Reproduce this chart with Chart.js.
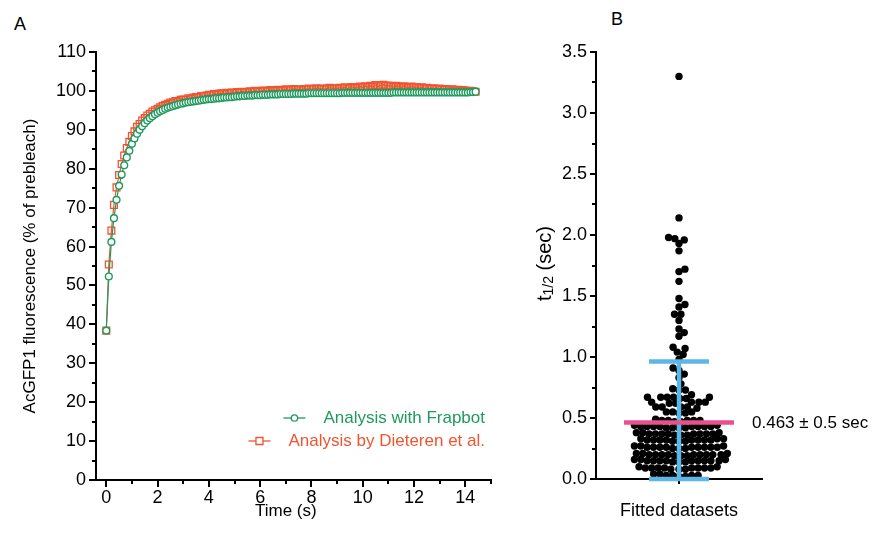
<!DOCTYPE html>
<html>
<head>
<meta charset="utf-8">
<script src="https://cdn.jsdelivr.net/npm/chart.js@4.4.1/dist/chart.umd.min.js"></script>
<style>
  html, body { margin: 0; padding: 0; background: #fff; }
  body { width: 879px; height: 539px; position: relative; overflow: hidden; font-family: "Liberation Sans", Arial, sans-serif; }
  #wrapA { position: absolute; left: 0; top: 0; width: 520px; height: 539px; }
  #wrapB { position: absolute; left: 520px; top: 0; width: 359px; height: 539px; }
  .panel { position: absolute; font-size: 18px; line-height: 18px; color: #000; }
</style>
</head>
<body>
<div class="panel" style="left:14px; top:15px">A</div>
<div class="panel" style="left:611px; top:10px">B</div>
<div id="wrapA"><canvas id="chartA"></canvas></div>
<div id="wrapB"><canvas id="chartB"></canvas></div>
<script>
// --- panel A: recovery curves (time in s, % of prebleach)
const timeS = [
  0.0, 0.1, 0.2, 0.3, 0.4, 0.5, 0.6, 0.7, 0.8, 0.9,
  1.0, 1.1, 1.2, 1.3, 1.4, 1.5, 1.6, 1.7, 1.8, 1.9,
  2.0, 2.1, 2.2, 2.3, 2.4, 2.5, 2.6, 2.7, 2.8, 2.9,
  3.0, 3.1, 3.2, 3.3, 3.4, 3.5, 3.6, 3.7, 3.8, 3.9,
  4.0, 4.1, 4.2, 4.3, 4.4, 4.5, 4.6, 4.7, 4.8, 4.9,
  5.0, 5.1, 5.2, 5.3, 5.4, 5.5, 5.6, 5.7, 5.8, 5.9,
  6.0, 6.1, 6.2, 6.3, 6.4, 6.5, 6.6, 6.7, 6.8, 6.9,
  7.0, 7.1, 7.2, 7.3, 7.4, 7.5, 7.6, 7.7, 7.8, 7.9,
  8.0, 8.1, 8.2, 8.3, 8.4, 8.5, 8.6, 8.7, 8.8, 8.9,
  9.0, 9.1, 9.2, 9.3, 9.4, 9.5, 9.6, 9.7, 9.8, 9.9,
  10.0, 10.1, 10.2, 10.3, 10.4, 10.5, 10.6, 10.7, 10.8, 10.9,
  11.0, 11.1, 11.2, 11.3, 11.4, 11.5, 11.6, 11.7, 11.8, 11.9,
  12.0, 12.1, 12.2, 12.3, 12.4, 12.5, 12.6, 12.7, 12.8, 12.9,
  13.0, 13.1, 13.2, 13.3, 13.4, 13.5, 13.6, 13.7, 13.8, 13.9,
  14.0, 14.1, 14.2, 14.3, 14.4
];

const frapbot = [
  38.4, 52.3, 61.2, 67.3, 72.0, 75.6, 78.5, 80.9, 82.9, 84.6,
  86.4, 87.8, 89.0, 90.0, 90.9, 91.7, 92.4, 93.0, 93.5, 94.0,
  94.4, 94.8, 95.1, 95.4, 95.7, 95.9, 96.1, 96.3, 96.5, 96.7,
  96.8, 97.0, 97.1, 97.2, 97.3, 97.4, 97.5, 97.6, 97.7, 97.8,
  97.9, 97.9, 98.0, 98.1, 98.1, 98.2, 98.3, 98.3, 98.4, 98.4,
  98.5, 98.6, 98.6, 98.7, 98.7, 98.8, 98.8, 98.8, 98.9, 98.9,
  98.9, 99.0, 99.0, 99.0, 99.1, 99.1, 99.1, 99.1, 99.2, 99.2,
  99.2, 99.2, 99.2, 99.3, 99.3, 99.3, 99.3, 99.3, 99.3, 99.4,
  99.4, 99.4, 99.4, 99.4, 99.4, 99.4, 99.4, 99.4, 99.4, 99.4,
  99.4, 99.4, 99.5, 99.5, 99.5, 99.5, 99.5, 99.5, 99.5, 99.5,
  99.5, 99.5, 99.5, 99.5, 99.5, 99.5, 99.5, 99.5, 99.5, 99.5,
  99.5, 99.5, 99.6, 99.6, 99.6, 99.6, 99.6, 99.6, 99.6, 99.6,
  99.6, 99.6, 99.6, 99.6, 99.6, 99.6, 99.6, 99.6, 99.6, 99.6,
  99.6, 99.6, 99.6, 99.6, 99.6, 99.6, 99.6, 99.6, 99.6, 99.6,
  99.6, 99.6, 99.7, 99.7, 99.8
];

const dieteren = [
  38.4, 55.4, 64.1, 70.7, 75.2, 78.4, 81.2, 83.4, 85.3, 86.9,
  88.4, 89.6, 90.8, 91.5, 92.4, 93.0, 93.7, 94.1, 94.7, 95.0,
  95.4, 95.8, 96.2, 96.4, 96.7, 97.0, 97.1, 97.4, 97.3, 97.7,
  97.8, 97.7, 98.1, 98.0, 98.3, 98.4, 98.3, 98.7, 98.6, 98.8,
  99.0, 98.9, 99.2, 99.1, 99.3, 99.4, 99.2, 99.5, 99.4, 99.6,
  99.5, 99.7, 99.6, 99.8, 99.7, 99.6, 99.9, 99.8, 100.0, 99.8,
  99.9, 100.1, 100.0, 99.9, 100.2, 100.1, 100.0, 100.3, 100.1, 100.2,
  100.4, 100.2, 100.3, 100.5, 100.3, 100.4, 100.2, 100.5, 100.4, 100.6,
  100.4, 100.5, 100.7, 100.5, 100.6, 100.4, 100.6, 100.8, 100.5, 100.7,
  100.6, 100.8, 100.7, 100.9, 100.6, 100.8, 101.0, 100.7, 100.9, 101.1,
  100.9, 101.2, 101.0, 101.3, 101.1, 101.5, 101.2, 101.4, 101.6, 101.3,
  101.4, 101.2, 101.0, 101.3, 101.1, 100.9, 101.2, 101.0, 100.8, 101.1,
  100.9, 101.0, 100.7, 100.9, 100.6, 100.8, 100.5, 100.7, 100.6, 100.4,
  100.6, 100.3, 100.5, 100.4, 100.2, 100.4, 100.1, 100.3, 100.0, 100.2,
  100.1, 99.9, 100.0, 99.9, 99.8
];

const timeTicks = [0, 2, 4, 6, 8, 10, 12, 14];
const timeMinorTicks = [1, 3, 5, 7, 9, 11, 13, 15];
const percentTicks = [0, 10, 20, 30, 40, 50, 60, 70, 80, 90, 100, 110];
const percentMinorTicks = [5, 15, 25, 35, 45, 55, 65, 75, 85, 95, 105];

// --- panel B: fitted half-times (s)
const halfLifeSec = [
  3.30, 2.14, 1.98, 1.97, 1.96, 1.93, 1.87, 1.72, 1.70, 1.62,
  1.48, 1.43, 1.41, 1.35, 1.35, 1.30, 1.23, 1.20, 1.17, 1.08,
  1.07, 1.04, 1.02, 0.98, 0.91, 0.89, 0.86, 0.83, 0.78, 0.74,
  0.73, 0.73, 0.69, 0.67, 0.67, 0.67, 0.66, 0.67, 0.66, 0.67,
  0.63, 0.63, 0.62, 0.63, 0.63, 0.62, 0.59, 0.59, 0.58, 0.59,
  0.59, 0.55, 0.54, 0.55, 0.54, 0.55,
  0.48, 0.48, 0.47, 0.48, 0.49, 0.48, 0.47, 0.48,
  0.43, 0.42, 0.43, 0.44, 0.43, 0.42, 0.43, 0.43, 0.44, 0.42, 0.43, 0.43, 0.42, 0.43,
  0.37, 0.38, 0.37, 0.36, 0.37, 0.38, 0.37, 0.37, 0.36, 0.37, 0.38, 0.37, 0.37, 0.36,
  0.32, 0.31, 0.32, 0.33, 0.32, 0.31, 0.32, 0.32, 0.33, 0.32, 0.31, 0.32, 0.32, 0.33,
  0.26, 0.27, 0.26, 0.25, 0.26, 0.26, 0.27, 0.26, 0.25, 0.26, 0.26, 0.27, 0.26, 0.25, 0.26,
  0.20, 0.21, 0.20, 0.19, 0.20, 0.20, 0.21, 0.20, 0.19, 0.20, 0.20, 0.21, 0.20, 0.19, 0.20,
  0.15, 0.14, 0.15, 0.16, 0.15, 0.15, 0.14, 0.15, 0.16, 0.15, 0.15, 0.14, 0.15, 0.16, 0.15,
  0.09, 0.08, 0.09, 0.10, 0.09, 0.09, 0.08, 0.09, 0.10, 0.09, 0.08, 0.09, 0.09,
  0.03, 0.02, 0.03, 0.04, 0.03, 0.03, 0.02, 0.04
];
const meanHalfLife = 0.463;
const sdHalfLife = 0.5;
const halfLifeTicks = [0, 0.5, 1.0, 1.5, 2.0, 2.5, 3.0, 3.5];
const halfLifeMinorTicks = [0.25, 0.75, 1.25, 1.75, 2.25, 2.75, 3.25];

const green = '#1f9a5e';
const red = '#ee5530';
const pink = '#e8508e';
const cyan = '#5cb7e6';
const fontFamily = '"Liberation Sans", Arial, sans-serif';

Chart.defaults.font.family = fontFamily;
Chart.defaults.color = '#000';

const axisGrid = { drawOnChartArea: false, drawTicks: true, tickLength: 7, lineWidth: 2, color: '#000' };
const axisBorder = { display: true, width: 2, color: '#000' };

// short ticks between the labelled ones
const minorTicks = {
  id: 'minorTicks',
  afterDraw(chart, args, opts) {
    const {ctx, chartArea, scales} = chart;
    ctx.save();
    ctx.strokeStyle = '#000';
    ctx.lineWidth = 2;
    for (const v of opts.x || []) {
      const px = Math.round(scales.x.getPixelForValue(v));
      ctx.beginPath();
      ctx.moveTo(px, chartArea.bottom);
      ctx.lineTo(px, chartArea.bottom + opts.len);
      ctx.stroke();
    }
    for (const v of opts.y || []) {
      const py = Math.round(scales.y.getPixelForValue(v));
      ctx.beginPath();
      ctx.moveTo(chartArea.left, py);
      ctx.lineTo(chartArea.left - opts.len, py);
      ctx.stroke();
    }
    ctx.restore();
  }
};

const timeTitle = {
  id: 'timeTitle',
  afterDraw(chart) {
    const {ctx, chartArea, scales} = chart;
    ctx.save();
    ctx.font = '17px ' + fontFamily;
    ctx.fillStyle = '#000';
    ctx.textAlign = 'center';
    ctx.textBaseline = 'middle';
    ctx.fillText('Time (s)', scales.x.getPixelForValue(7), chartArea.bottom + 31);
    ctx.restore();
  }
};

// legend inside the plot, bottom right
const insideLegend = {
  id: 'insideLegend',
  afterDraw(chart) {
    const {ctx, chartArea} = chart;
    const right = chartArea.right - 6;
    const rows = [chartArea.bottom - 62, chartArea.bottom - 39];
    ctx.save();
    ctx.font = '17px ' + fontFamily;
    ctx.textAlign = 'right';
    ctx.textBaseline = 'middle';
    chart.data.datasets.forEach((ds, i) => {
      const y = rows[i];
      const w = ctx.measureText(ds.label).width;
      const x1 = right - w - 18;
      const x0 = x1 - 22;
      const mx = (x0 + x1) / 2;
      ctx.fillStyle = ds.borderColor;
      ctx.fillText(ds.label, right, y);
      ctx.strokeStyle = ds.borderColor;
      ctx.lineWidth = 1.3;
      ctx.beginPath();
      ctx.moveTo(x0, y);
      ctx.lineTo(x1, y);
      ctx.stroke();
      ctx.fillStyle = '#fff';
      ctx.beginPath();
      if (ds.pointStyle === 'rect') ctx.rect(mx - 3.5, y - 3.5, 7, 7);
      else ctx.arc(mx, y, 3.2, 0, Math.PI * 2);
      ctx.fill();
      ctx.stroke();
    });
    ctx.restore();
  }
};

const chartA = new Chart(document.getElementById('chartA'), {
  type: 'line',
  data: {
    datasets: [
      {
        label: 'Analysis with Frapbot',
        data: timeS.map((t, i) => ({x: t, y: frapbot[i]})),
        borderColor: green,
        backgroundColor: '#fff',
        pointBackgroundColor: '#fff',
        pointStyle: 'circle',
        pointRadius: 3.4,
        pointBorderWidth: 1.4,
        borderWidth: 1.2,
      },
      {
        label: 'Analysis by Dieteren et al.',
        data: timeS.map((t, i) => ({x: t, y: dieteren[i]})),
        borderColor: red,
        backgroundColor: 'rgba(255,255,255,0)',
        pointBackgroundColor: 'rgba(255,255,255,0)',
        pointStyle: 'rect',
        pointRadius: 4.8,
        pointBorderWidth: 1.3,
        borderWidth: 1.2,
      }
    ]
  },
  options: {
    responsive: true,
    maintainAspectRatio: false,
    animation: false,
    layout: {padding: {left: 0, top: 52, right: 29, bottom: 0}},
    plugins: {
      legend: {display: false},
      tooltip: {enabled: false},
      minorTicks: {x: timeMinorTicks, y: percentMinorTicks, len: 4},
    },
    scales: {
      x: {
        type: 'linear',
        min: -0.4,
        max: 15,
        afterBuildTicks: s => { s.ticks = timeTicks.map(v => ({value: v})); },
        afterFit: s => { s.height = 59; },
        grid: axisGrid,
        border: axisBorder,
        ticks: {font: {size: 18}, padding: 0, maxRotation: 0, autoSkip: false, callback: v => String(v)},
      },
      y: {
        type: 'linear',
        min: 0,
        max: 110,
        afterBuildTicks: s => { s.ticks = percentTicks.map(v => ({value: v})); },
        afterFit: s => { s.width = 96; },
        grid: axisGrid,
        border: axisBorder,
        ticks: {font: {size: 18}, padding: 3, autoSkip: false, callback: v => String(v)},
        title: {display: true, text: 'AcGFP1 fluorescence (% of prebleach)', font: {size: 17}, padding: {top: 20, bottom: 0}},
      }
    }
  },
  plugins: [minorTicks, timeTitle, insideLegend]
});

// mean line, SD bar, the value text and the t1/2 axis title
const meanSd = {
  id: 'meanSd',
  afterDatasetsDraw(chart, args, opts) {
    const {ctx, chartArea, scales} = chart;
    const cx = scales.x.getPixelForValue(0);
    const yTop = scales.y.getPixelForValue(opts.mean + opts.sd);
    const yBot = scales.y.getPixelForValue(Math.max(0, opts.mean - opts.sd));
    const yMean = scales.y.getPixelForValue(opts.mean);
    ctx.save();
    ctx.lineCap = 'butt';
    ctx.strokeStyle = cyan;
    ctx.lineWidth = 4.5;
    ctx.beginPath();
    ctx.moveTo(cx, yTop); ctx.lineTo(cx, yBot);
    ctx.moveTo(cx - 30, yTop); ctx.lineTo(cx + 30, yTop);
    ctx.moveTo(cx - 30, yBot); ctx.lineTo(cx + 30, yBot);
    ctx.stroke();
    ctx.strokeStyle = pink;
    ctx.beginPath();
    ctx.moveTo(cx - 55, yMean); ctx.lineTo(cx + 55, yMean);
    ctx.stroke();
    ctx.font = '17px ' + fontFamily;
    ctx.fillStyle = '#000';
    ctx.textAlign = 'left';
    ctx.textBaseline = 'middle';
    ctx.fillText(opts.mean + ' \u00b1 ' + opts.sd + ' sec', chartArea.right - 10, yMean + 1);
    ctx.restore();
  },
  afterDraw(chart) {
    const {ctx, chartArea} = chart;
    ctx.save();
    ctx.translate(chartArea.left - 51, (chartArea.top + chartArea.bottom) / 2 - 2);
    ctx.rotate(-Math.PI / 2);
    ctx.fillStyle = '#000';
    ctx.textBaseline = 'middle';
    const big = '20px ' + fontFamily, small = '14px ' + fontFamily;
    ctx.font = big;
    const wt = ctx.measureText('t').width, wr = ctx.measureText(' (sec)').width;
    ctx.font = small;
    const ws = ctx.measureText('1/2').width;
    let x = -(wt + ws + wr) / 2;
    ctx.font = big;
    ctx.fillText('t', x, 0);
    x += wt;
    ctx.font = small;
    ctx.fillText('1/2', x, 4);
    x += ws;
    ctx.font = big;
    ctx.fillText(' (sec)', x, 0);
    ctx.restore();
  }
};

const chartB = new Chart(document.getElementById('chartB'), {
  type: 'scatter',
  data: {
    datasets: [{
      label: 'Fitted datasets',
      data: halfLifeSec.map(v => ({x: 0, y: v})),
      backgroundColor: '#000',
      borderColor: '#000',
      pointRadius: 3.7,
      pointBorderWidth: 0,
    }]
  },
  options: {
    responsive: true,
    maintainAspectRatio: false,
    animation: false,
    layout: {padding: {left: 0, top: 52, right: 117, bottom: 0}},
    plugins: {
      legend: {display: false},
      tooltip: {enabled: false},
      minorTicks: {y: halfLifeMinorTicks, len: 4},
      meanSd: {mean: meanHalfLife, sd: sdHalfLife},
    },
    scales: {
      x: {
        type: 'linear',
        min: -1,
        max: 1,
        afterBuildTicks: s => { s.ticks = [{value: 0}]; },
        afterFit: s => { s.height = 60; },
        grid: Object.assign({}, axisGrid, {tickLength: 5}),
        border: axisBorder,
        ticks: {font: {size: 18}, padding: 16, maxRotation: 0, callback: () => 'Fitted datasets'},
      },
      y: {
        type: 'linear',
        min: 0,
        max: 3.5,
        afterBuildTicks: s => { s.ticks = halfLifeTicks.map(v => ({value: v})); },
        afterFit: s => { s.width = 76; },
        grid: Object.assign({}, axisGrid, {tickLength: 6}),
        border: axisBorder,
        ticks: {font: {size: 18}, padding: 3, autoSkip: false, callback: v => v.toFixed(1)},
      }
    }
  },
  plugins: [minorTicks, meanSd]
});

// beeswarm: spread equal-ish values sideways, in pixel space, via the chart's scales
function swarmOffsets(chart, values, diameter) {
  const xs = chart.scales.x, ys = chart.scales.y;
  const cx = xs.getPixelForValue(0);
  const order = values.map((v, i) => i).sort((a, b) => values[a] - values[b]);
  const placed = [];
  const out = new Array(values.length);
  const d2 = diameter * diameter;
  for (const i of order) {
    const py = ys.getPixelForValue(values[i]);
    const near = placed.filter(p => Math.abs(p.y - py) < diameter);
    const cands = [0];
    for (const p of near) {
      const dx = Math.sqrt(d2 - (p.y - py) * (p.y - py));
      cands.push(p.x + dx, p.x - dx);
    }
    cands.sort((a, b) => Math.abs(a) - Math.abs(b));
    let best = 0;
    for (const c of cands) {
      if (near.every(p => (p.x - c) ** 2 + (p.y - py) ** 2 >= d2 - 0.01)) { best = c; break; }
    }
    placed.push({x: best, y: py});
    out[i] = xs.getValueForPixel(cx + best);
  }
  return out;
}

const swarmX = swarmOffsets(chartB, halfLifeSec, 6.4);
chartB.data.datasets[0].data = halfLifeSec.map((v, i) => ({x: swarmX[i], y: v}));
chartB.update('none');
</script>
</body>
</html>
